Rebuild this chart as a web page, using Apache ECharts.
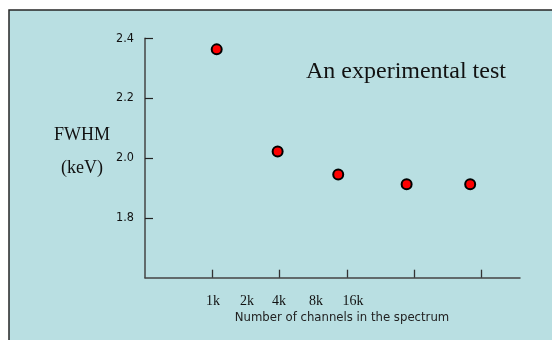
<!DOCTYPE html>
<html>
<head>
<meta charset="utf-8">
<script src="https://cdn.jsdelivr.net/npm/echarts@6/dist/echarts.min.js"></script>
<style>
html,body{margin:0;padding:0;background:#ffffff;}
#c{width:552px;height:340px;}
</style>
</head>
<body>
<div id="c"></div>
<script>
// Data
const xPositions = [1.065, 1.97, 2.87, 3.886, 4.83];
const fwhmValues = [2.363, 2.022, 1.945, 1.912, 1.912];
const yTicks = [1.8, 2.0, 2.2, 2.4];
const xTicks = [1, 2, 3, 4, 5];
const channelLabels = ['1k', '2k', '4k', '8k', '16k'];
const channelLabelX = [213, 247, 279, 316, 353];
const title = 'An experimental test';
const yName = ['FWHM', '(keV)'];
const xName = 'Number of channels in the spectrum';

const chart = echarts.init(document.getElementById('c'), null, {renderer: 'canvas'});
const sans = '"DejaVu Sans Condensed", "DejaVu Sans", sans-serif';
const serif = '"Liberation Serif", "DejaVu Serif", serif';

const graphics = [
  {type: 'rect', z: -10, shape: {x: 9, y: 10, width: 600, height: 400},
   style: {fill: '#b9dfe2', stroke: '#262626', lineWidth: 1.5}},
  {type: 'text', x: 306, y: 72, style: {text: title, font: '24px ' + serif, fill: '#111', textVerticalAlign: 'middle'}},
  {type: 'text', x: 82, y: 135, style: {text: yName[0], font: '18px ' + serif, fill: '#111', textAlign: 'center', textVerticalAlign: 'middle'}},
  {type: 'text', x: 82, y: 168, style: {text: yName[1], font: '18px ' + serif, fill: '#111', textAlign: 'center', textVerticalAlign: 'middle'}},
  {type: 'text', x: 342, y: 318, style: {text: xName, font: '13px ' + sans, fill: '#222', textAlign: 'center', textVerticalAlign: 'middle'}}
];
channelLabels.forEach((t, i) => {
  graphics.push({type: 'text', x: channelLabelX[i], y: 301, style: {text: t, font: '14px ' + serif, fill: '#111', textAlign: 'center', textVerticalAlign: 'middle'}});
});

chart.setOption({
  backgroundColor: '#ffffff',
  animation: false,
  graphic: graphics,
  grid: {left: 145, right: 32, top: 38.3, bottom: 62.3},
  xAxis: {
    type: 'value', min: 0, max: 5.57, interval: 1,
    splitLine: {show: false},
    axisLine: {show: true, lineStyle: {color: '#444', width: 1.5}},
    axisTick: {show: true, inside: true, length: 8, customValues: xTicks, lineStyle: {color: '#333', width: 1.3}},
    axisLabel: {show: false}
  },
  yAxis: {
    type: 'value', min: 1.6, max: 2.4, interval: 0.2,
    splitLine: {show: false},
    axisLine: {show: true, lineStyle: {color: '#444', width: 1.5}},
    axisTick: {show: true, inside: true, length: 8, customValues: yTicks, lineStyle: {color: '#222', width: 1.2}},
    axisLabel: {show: true, customValues: yTicks, margin: 11, fontFamily: sans, fontSize: 12.5, color: '#111',
      formatter: v => v.toFixed(1)}
  },
  series: [{
    type: 'scatter',
    data: xPositions.map((x, i) => [x, fwhmValues[i]]),
    symbol: 'circle',
    symbolSize: 10,
    itemStyle: {color: '#ff0000', borderColor: '#000', borderWidth: 2, opacity: 1}
  }]
});
</script>
</body>
</html>
